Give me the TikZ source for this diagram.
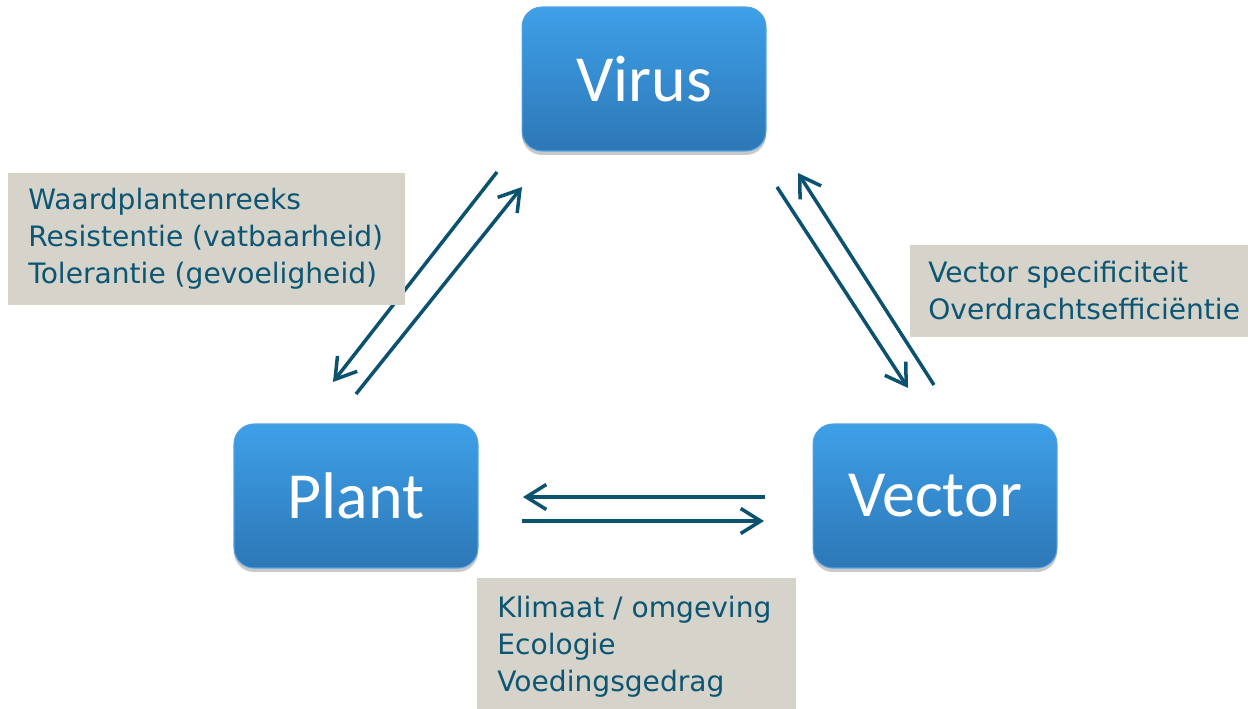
\documentclass[tikz,border=0pt]{standalone}
\usepackage{fontspec}
\setmainfont{DejaVu Sans}
\newfontfamily\boxfont{Carlito}
\usetikzlibrary{arrows.meta,shadows,fit}
\definecolor{boxtop}{RGB}{62,160,232}
\definecolor{boxbot}{RGB}{45,119,182}
\definecolor{boxedge}{RGB}{84,160,222}
\definecolor{labelgray}{RGB}{214,211,203}
\definecolor{labeltext}{RGB}{12,86,116}
\definecolor{arrowcol}{RGB}{10,82,112}
\tikzset{
  mainbox/.style={rectangle, rounded corners=0.4cm, minimum width=4.88cm, minimum height=2.88cm,
    top color=boxtop, bottom color=boxbot, draw=boxedge, line width=0.6pt,
    drop shadow={shadow xshift=0pt, shadow yshift=-0.08cm, opacity=0.3, fill=black!70},
    text=white, font=\boxfont\fontsize{37.5}{40}\selectfont, inner sep=0pt},
  labelbox/.style={rectangle, fill=labelgray, inner sep=0pt},
  labeltxt/.style={anchor=base west, inner sep=0pt, text=labeltext, font=\fontsize{16}{18}\selectfont},
  conn/.style={draw=arrowcol, line width=2pt, -{Straight Barb[length=0.4cm,width=0.5cm,line width=2pt]}},
}
\begin{document}
\begin{tikzpicture}[x=0.02cm,y=-0.02cm]
\useasboundingbox (0,0) rectangle (1248,709);

% main boxes
\node[mainbox] (virus) at (644,79) {Virus};
\node[mainbox] (plant) at (356,496) {Plant};
\node[mainbox] (vector) at (935,496) {Vector};

% connector end points
\coordinate (vpA) at (497,172);
\coordinate (vpB) at (333,382);
\coordinate (pvA) at (356,394);
\coordinate (pvB) at (522,187);
\coordinate (vvA) at (777,187);
\coordinate (vvB) at (908,388);
\coordinate (evA) at (934,385);
\coordinate (evB) at (798,173);
\coordinate (epA) at (765,497);
\coordinate (epB) at (523,497);
\coordinate (peA) at (522,521);
\coordinate (peB) at (764,521);

\draw[conn] (vpA) -- (vpB);
\draw[conn] (pvA) -- (pvB);
\draw[conn] (vvA) -- (vvB);
\draw[conn] (evA) -- (evB);
\draw[conn] (epA) -- (epB);
\draw[conn] (peA) -- (peB);

% label boxes
\node[labelbox, fit={(8,173) (405,305)}] (lblleft) {};
\node[labeltxt] (l1a) at (28,210) {Waardplantenreeks};
\node[labeltxt] (l1b) at (28,247) {Resistentie (vatbaarheid)};
\node[labeltxt] (l1c) at (28,284) {Tolerantie (gevoeligheid)};

\node[labelbox, fit={(910,245) (1248,337)}] (lblright) {};
\node[labeltxt] (l2a) at (928,283) {Vector specificiteit};
\node[labeltxt] (l2b) at (928,320) {Overdrachtsefficiëntie};

\node[labelbox, fit={(477,578) (796,709)}] (lblbottom) {};
\node[labeltxt] (l3a) at (497,617) {Klimaat / omgeving};
\node[labeltxt] (l3b) at (497,654) {Ecologie};
\node[labeltxt] (l3c) at (497,691) {Voedingsgedrag};
\end{tikzpicture}
\end{document}
